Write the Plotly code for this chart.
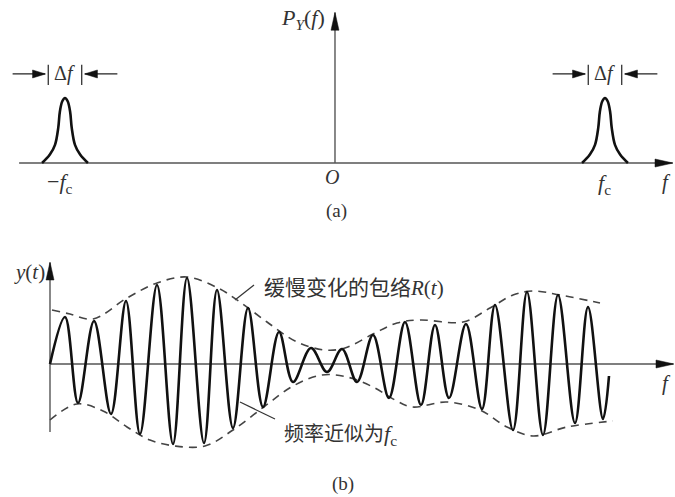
import plotly.graph_objects as go

W, H = 675, 497
SERIF = "Liberation Serif"
CJK = "Noto Sans CJK SC"
TXT = "#333333"
AXC = "#555555"

# ---------------- Panel (a): power spectrum P_Y(f) ----------------
fc = 1.0
psd_offsets = [-0.085, -0.056, -0.037, -0.025, -0.019, -0.010, 0.0,
               0.010, 0.019, 0.025, 0.037, 0.056, 0.085]
psd_values = [0.0, 0.13, 0.28, 0.54, 0.79, 0.95, 1.0,
              0.95, 0.79, 0.54, 0.28, 0.13, 0.0]
delta_f_half = 0.062      # half of the bandwidth Δf
delta_arrow_tail = 0.194
delta_level = 1.37

# ---------------- Panel (b): narrowband signal y(t) ----------------
wave_t = [0.00, 0.15, 0.28, 0.44, 0.61, 0.76, 0.90, 1.07, 1.23, 1.37, 1.54,
          1.67, 1.83, 1.98, 2.13, 2.29, 2.43, 2.61, 2.77, 2.92, 3.07, 3.23,
          3.39, 3.55, 3.71, 3.85, 3.99, 4.16, 4.32, 4.45, 4.63, 4.77, 4.93,
          5.08, 5.25, 5.38, 5.53, 5.59]
wave_y = [0.00, 0.47, -0.39, 0.43, -0.50, 0.63, -0.70, 0.79, -0.80, 0.86, -0.79,
          0.74, -0.64, 0.56, -0.43, 0.32, -0.18, 0.16, -0.08, 0.15, -0.18, 0.29,
          -0.34, 0.42, -0.41, 0.39, -0.34, 0.40, -0.45, 0.59, -0.66, 0.72, -0.71,
          0.69, -0.59, 0.57, -0.55, -0.12]

env_up_t = [0.02, 0.20, 0.43, 0.77, 1.07, 1.37, 1.68, 1.90, 2.17, 2.47, 2.75,
            2.95, 3.23, 3.47, 3.70, 4.13, 4.40, 4.63, 4.83, 5.10, 5.50]
env_up_y = [0.54, 0.50, 0.45, 0.66, 0.81, 0.87, 0.76, 0.62, 0.42, 0.22, 0.14,
            0.16, 0.30, 0.41, 0.44, 0.42, 0.56, 0.69, 0.73, 0.69, 0.61]
env_lo_t = [0.00, 0.27, 0.53, 0.77, 1.00, 1.25, 1.55, 1.83, 2.15, 2.43, 2.72,
            2.97, 3.23, 3.45, 3.62, 3.97, 4.30, 4.57, 4.83, 5.17, 5.63]
env_lo_y = [-0.56, -0.40, -0.47, -0.63, -0.76, -0.82, -0.82, -0.66, -0.42, -0.22, -0.11,
            -0.13, -0.23, -0.36, -0.43, -0.38, -0.46, -0.63, -0.72, -0.63, -0.57]

fig = go.Figure()

# spectrum peaks at -fc and +fc
for c in (-fc, fc):
    fig.add_trace(go.Scatter(
        x=[c + o for o in psd_offsets], y=psd_values, mode="lines",
        line=dict(color="#111111", width=2.6, shape="spline", smoothing=1.0),
        xaxis="x", yaxis="y", hoverinfo="skip", showlegend=False))

# envelopes
for tt, yy in ((env_up_t, env_up_y), (env_lo_t, env_lo_y)):
    fig.add_trace(go.Scatter(
        x=tt, y=yy, mode="lines",
        line=dict(color="#444444", width=1.6, dash="8px,6px", shape="spline"),
        xaxis="x2", yaxis="y2", hoverinfo="skip", showlegend=False))

# carrier wave
fig.add_trace(go.Scatter(
    x=wave_t, y=wave_y, mode="lines",
    line=dict(color="#111111", width=2.6, shape="spline", smoothing=1.0),
    xaxis="x2", yaxis="y2", hoverinfo="skip", showlegend=False))

shapes = []


def line(x0, y0, x1, y1, xr, yr, color=AXC, width=1.4):
    shapes.append(dict(type="line", x0=x0, y0=y0, x1=x1, y1=y1, xref=xr, yref=yr,
                       line=dict(color=color, width=width), layer="below"))


def head(xa, ya, xr, yr, direction, length=18, half=4):
    if direction == "right":
        p = f"M0,0 L{-length},{half} L{-length},{-half} Z"
    elif direction == "left":
        p = f"M0,0 L{length},{half} L{length},{-half} Z"
    else:  # up
        p = f"M0,0 L{half},{-length} L{-half},{-length} Z"
    shapes.append(dict(type="path", path=p, xref=xr, yref=yr,
                       xsizemode="pixel", ysizemode="pixel",
                       xanchor=xa, yanchor=ya,
                       fillcolor="#111111", line=dict(color="#111111", width=0.5)))


# axes of panel (a)
line(-1.17, 0, 1.25, 0, "x", "y")
head(1.252, 0, "x", "y", "right")
line(0, 0, 0, 2.31, "x", "y")
head(0, 2.32, "x", "y", "up")

# Δf markers
for c in (-fc, fc):
    line(c - delta_f_half, 1.20, c - delta_f_half, 1.51, "x", "y", color="#222222", width=1.2)
    line(c + delta_f_half, 1.20, c + delta_f_half, 1.51, "x", "y", color="#222222", width=1.2)
    line(c - delta_arrow_tail, delta_level, c - 0.074, delta_level, "x", "y", color="#222222", width=1.2)
    line(c + delta_arrow_tail, delta_level, c + 0.074, delta_level, "x", "y", color="#222222", width=1.2)
    head(c - 0.072, delta_level, "x", "y", "right", length=13, half=4)
    head(c + 0.072, delta_level, "x", "y", "left", length=13, half=4)

# axes of panel (b)
line(0, 0, 6.23, 0, "x2", "y2")
head(6.24, 0, "x2", "y2", "right")
line(0, -0.68, 0, 1.01, "x2", "y2")
head(0, 1.02, "x2", "y2", "up")

# leader lines
line(1.85, 0.64, 2.04, 0.79, "x2", "y2", color="#333333", width=1.2)
line(1.90, -0.38, 2.25, -0.55, "x2", "y2", color="#333333", width=1.2)

ann = []


def text(x, y, s, xr, yr, size=17, xanchor="center", family=SERIF):
    ann.append(dict(x=x, y=y, xref=xr, yref=yr, text=s, showarrow=False,
                    xanchor=xanchor, yanchor="middle",
                    font=dict(family=family, size=size, color=TXT)))


text(-0.030, 2.22, "<i>P</i><sub><i>Y</i></sub>(<i>f</i>)", "x", "y", size=22, xanchor="right")
text(-0.011, -0.215, "<i>O</i>", "x", "y", size=20)
text(-1.018, -0.31, "\u2212<i>f</i><sub>c</sub>", "x", "y", size=22)
text(1.0, -0.32, "<i>f</i><sub>c</sub>", "x", "y", size=22)
text(1.226, -0.29, "<i>f</i>", "x", "y", size=21)
text(0.004, -0.74, "(a)", "x", "y", size=19)
for c in (-fc, fc):
    text(c - 0.003, delta_level, "\u0394<i>f</i>", "x", "y", size=20)

text(-0.21, 0.92, "<i>y</i>(<i>t</i>)", "x2", "y2", size=21)
text(6.16, -0.19, "<i>f</i>", "x2", "y2", size=21)
text(2.93, -1.20, "(b)", "x2", "y2", size=19)
text(2.12, 0.78,
     "缓慢变化的包络<span style='font-family:Liberation Serif'><i>R</i>(<i>t</i>)</span>",
     "x2", "y2", size=21, xanchor="left", family=CJK)
text(2.32, -0.69,
     "频率近似为<span style='font-family:Liberation Serif;font-size:22px'><i>f</i><sub>c</sub></span>",
     "x2", "y2", size=20, xanchor="left", family=CJK)

hidden = dict(visible=False, showgrid=False, zeroline=False, fixedrange=True)
fig.update_layout(
    width=W, height=H, margin=dict(l=0, r=0, t=0, b=0),
    paper_bgcolor="white", plot_bgcolor="rgba(0,0,0,0)", showlegend=False,
    xaxis=dict(domain=[0, 1], range=[-1.2407, 1.2593], **hidden),
    yaxis=dict(domain=[0, 1], range=[-5.138, 2.508], **hidden),
    xaxis2=dict(domain=[0, 1], range=[-0.5, 6.25], anchor="y2", **hidden),
    yaxis2=dict(domain=[0, 1], range=[-1.33, 3.64], anchor="x2", **hidden),
    shapes=shapes, annotations=ann,
)

fig.write_html("out.html", config={"displayModeBar": False},
               post_script="document.body.style.margin='0';document.body.style.overflow='hidden';")
